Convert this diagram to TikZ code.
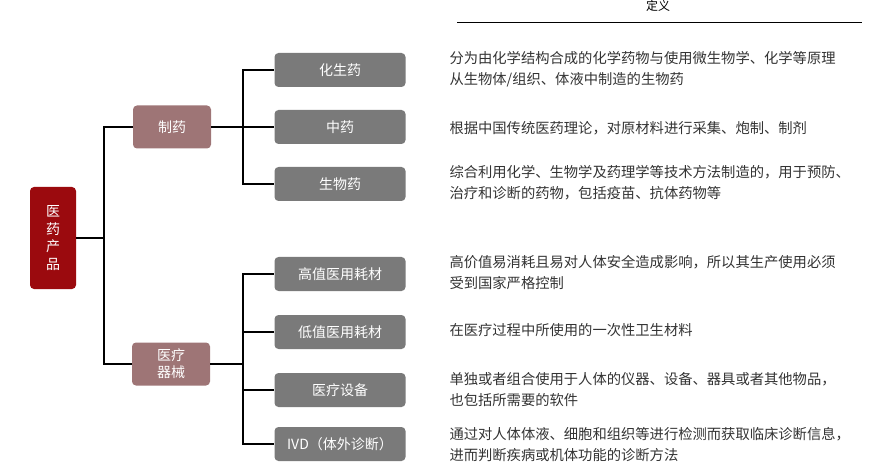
\documentclass[tikz,border=0pt]{standalone}
\usepackage{fontspec}
\setmainfont{Noto Sans CJK SC}
\usetikzlibrary{positioning}
\definecolor{rootred}{HTML}{9B0A0E}
\definecolor{midrose}{HTML}{9E7576}
\definecolor{leafgray}{HTML}{7A7A7A}
\definecolor{txtgray}{HTML}{333333}
\tikzset{
        rootbox/.style = {fill=rootred, rounded corners=4pt, text=white,
            minimum width=46pt, minimum height=102pt, align=center, inner sep=0pt},
        midbox/.style = {fill=midrose, rounded corners=4pt, text=white,
            minimum width=78pt, minimum height=43pt, align=center, inner sep=0pt},
        leafbox/.style = {fill=leafgray, rounded corners=4pt, text=white,
            minimum width=131pt, minimum height=34pt, inner sep=0pt},
        desc/.style = {anchor=west, align=left, text=txtgray, font=\fontsize{14.3}{21}\selectfont},
        link/.style = {draw, line width=1.4pt},
    }
\begin{document}
\begin{tikzpicture}[x=1pt,y=-1pt,font=\fontsize{14}{17}\selectfont]
    \useasboundingbox (0,0) rectangle (880,470);

    \node[rootbox, font=\fontsize{14}{17.5}\selectfont] (root) at (53,238) {医\\药\\产\\品};
    \node[midbox] (drug) at (172,127) {制药};
    \node[midbox] (dev) at (171,364) {医疗\\器械};

    \node[leafbox] (l1) at (340,70) {化生药};
    \node[leafbox] (l2) at (340,127) {中药};
    \node[leafbox] (l3) at (340,184) {生物药};
    \node[leafbox] (l4) at (340,274) {高值医用耗材};
    \node[leafbox] (l5) at (340,332) {低值医用耗材};
    \node[leafbox] (l6) at (340,390) {医疗设备};
    \node[leafbox] (l7) at (340,444) {IVD（体外诊断）};

    % connectors
    \coordinate (ja) at (104,238);
    \draw[link] (root.east) -- (ja) |- (drug.west);
    \draw[link] (ja) |- (dev.west);
    \coordinate (jb) at (243,127);
    \draw[link] (drug.east) -- (jb);
    \foreach \n in {l1,l2,l3}
        \draw[link] (jb) |- (\n.west);
    \coordinate (jc) at (243,364);
    \draw[link] (dev.east) -- (jc);
    \foreach \n in {l4,l5,l6,l7}
        \draw[link] (jc) |- (\n.west);

    % definitions
    \node[font=\fontsize{12}{14}\selectfont] (head) at (658,6) {定义};
    \coordinate (hl) at (457,23);
    \coordinate (hr) at (862,23);
    \draw[line width=1pt] (hl) -- (hr);

    \node[desc] (d1) at (446,69) {分为由化学结构合成的化学药物与使用微生物学、化学等原理\\从生物体/组织、体液中制造的生物药};
    \node[desc] (d2) at (446,128) {根据中国传统医药理论，对原材料进行采集、炮制、制剂};
    \node[desc] (d3) at (446,183) {综合利用化学、生物学及药理学等技术方法制造的，用于预防、\\治疗和诊断的药物，包括疫苗、抗体药物等};
    \node[desc] (d4) at (446,272) {高价值易消耗且易对人体安全造成影响，所以其生产使用必须\\受到国家严格控制};
    \node[desc] (d5) at (446,330) {在医疗过程中所使用的一次性卫生材料};
    \node[desc] (d6) at (446,390) {单独或者组合使用于人体的仪器、设备、器具或者其他物品，\\也包括所需要的软件};
    \node[desc] (d7) at (446,445) {通过对人体体液、细胞和组织等进行检测而获取临床诊断信息，\\进而判断疾病或机体功能的诊断方法};
\end{tikzpicture}
\end{document}
